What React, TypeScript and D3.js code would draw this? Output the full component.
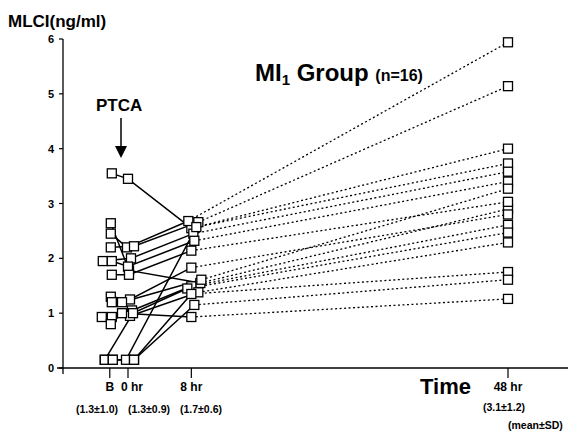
import * as d3 from "d3";

// chart size
const width = 568;
const height = 433;

// time points (hours); B is drawn a little before 0 hr
const timeLabels = ["B", "0 hr", "8 hr", "48 hr"];
const timeValues = [-2.3, 0, 8, 48];
const statLabels = ["(1.3±1.0)", "(1.3±0.9)", "(1.7±0.6)", "(3.1±1.2)"];
const yTicks = [0, 1, 2, 3, 4, 5, 6];

// MLCI values per patient (ng/ml)
const valuesB = [3.55, 2.64, 2.45, 2.2, 1.95, 1.95, 1.7, 1.3, 1.2, 0.93, 0.93, 0.8, 0.15, 0.15, 0.15, 0.15];
const values0 = [3.45, 1.78, 2.2, 2.22, 2.0, 1.85, 1.7, 1.25, 1.2, 1.05, 0.95, 1.0, 1.0, 0.15, 0.15, 0.15];
const values8 = [2.55, 1.55, 2.68, 2.66, 2.45, 2.32, 2.14, 1.83, 1.61, 1.49, 1.38, 0.93, 1.45, 2.57, 1.35, 1.15];
const values48 = [3.73, 2.9, 5.94, 5.14, 3.58, 3.4, 3.03, 2.8, 3.27, 2.61, 2.29, 1.26, 2.47, 4.0, 1.75, 1.61];

// small horizontal spread so overlapping squares stay visible (px)
const JITTER = [
  [2, 0, 0], [1, 1, 9], [1, -1, -3], [1, 6, 7],
  [-7, 3, 2], [2, 0, 3], [2, 1, 0], [1, 2, 0],
  [2, -6, 10], [-8, 4, 0], [2, 2, 7], [1, -6, 0],
  [-5, 5, -4], [-5, -2, 5], [3, 6, 0], [3, 6, 3],
];

const MARGIN = { left: 63, bottom: 368, top: 39 };
const FONT = "'Liberation Sans', Arial, Helvetica, sans-serif";
const BOX = 9;

export default function App() {
  const xScale = d3.scaleLinear().domain([0, 48]).range([128, 508]);
  const yScale = d3.scaleLinear().domain([0, 6]).range([MARGIN.bottom, MARGIN.top]);

  const patients = valuesB.map((b, i) => {
    const j = JITTER[i];
    return [
      { x: xScale(timeValues[0]) + j[0], y: yScale(b) },
      { x: xScale(timeValues[1]) + j[1], y: yScale(values0[i]) },
      { x: xScale(timeValues[2]) + j[2], y: yScale(values8[i]) },
      { x: xScale(timeValues[3]), y: yScale(values48[i]) },
    ];
  });

  const line = d3.line<{ x: number; y: number }>().x((d) => d.x).y((d) => d.y);

  return (
    <svg
      width={width}
      height={height}
      style={{ position: "absolute", left: 0, top: 0, background: "#fff" }}
      fontFamily={FONT}
      fontWeight="bold"
    >
      {/* title of y axis */}
      <text x={8} y={27} fontSize={17}>MLCI(ng/ml)</text>

      {/* y axis */}
      <line x1={MARGIN.left} x2={MARGIN.left} y1={MARGIN.top} y2={MARGIN.bottom + 6} stroke="#000" strokeWidth={1.3} />
      {yTicks.map((t) => (
        <g key={t}>
          <line x1={MARGIN.left - 4} x2={MARGIN.left} y1={yScale(t)} y2={yScale(t)} stroke="#000" strokeWidth={1.2} />
          <text x={MARGIN.left - 9} y={yScale(t) + 4} fontSize={11} textAnchor="end">{t}</text>
        </g>
      ))}

      {/* x axis */}
      <line x1={MARGIN.left - 6} x2={width} y1={MARGIN.bottom} y2={MARGIN.bottom} stroke="#000" strokeWidth={1.3} />
      {timeValues.map((t, i) => (
        <g key={i}>
          <line x1={xScale(t)} x2={xScale(t)} y1={MARGIN.bottom} y2={MARGIN.bottom + 10} stroke="#000" strokeWidth={1.2} />
          <text x={xScale(t) + (i === 1 ? 4 : 0)} y={MARGIN.bottom + 23} fontSize={12} textAnchor="middle">{timeLabels[i]}</text>
        </g>
      ))}
      {statLabels.slice(0, 3).map((s, i) => (
        <text key={i} x={97 + i * 52} y={413} fontSize={10.5} textAnchor="middle">{s}</text>
      ))}
      <text x={xScale(48) - 4} y={411} fontSize={10.5} textAnchor="middle">{statLabels[3]}</text>
      <text x={508} y={429} fontSize={10.5}>(mean±SD)</text>
      <text x={420} y={394} fontSize={22}>Time</text>

      {/* group title */}
      <text x={255} y={81} fontSize={24}>
        MI<tspan fontSize={15} dy={4}>1</tspan>
        <tspan dy={-4}> Group </tspan>
        <tspan fontSize={16}>(n=16)</tspan>
      </text>

      {/* PTCA marker */}
      <text x={96} y={111} fontSize={17}>PTCA</text>
      <line x1={121} x2={121} y1={118} y2={148} stroke="#000" strokeWidth={1.5} />
      <path d="M115,146 L127,146 L121,158 Z" fill="#000" />

      {/* lines per patient */}
      {patients.map((p, i) => (
        <g key={i}>
          <path d={line(p.slice(0, 3)) || ""} fill="none" stroke="#000" strokeWidth={1.5} />
          <path d={line(p.slice(2)) || ""} fill="none" stroke="#000" strokeWidth={1.3} strokeDasharray="2,2.5" />
        </g>
      ))}

      {/* squares */}
      {patients.map((p, i) =>
        p.map((d, k) => (
          <rect
            key={`${i}-${k}`}
            x={d.x - BOX / 2}
            y={d.y - BOX / 2}
            width={BOX}
            height={BOX}
            fill="#fff"
            stroke="#000"
            strokeWidth={1.3}
          />
        ))
      )}
    </svg>
  );
}
